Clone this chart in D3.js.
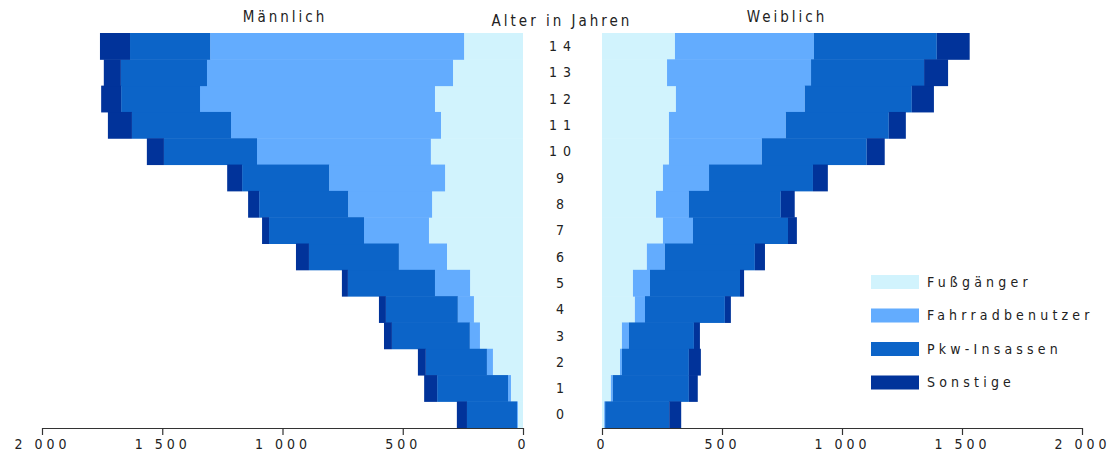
<!DOCTYPE html>
<html>
<head>
<meta charset="utf-8">
<script src="https://cdn.jsdelivr.net/npm/d3@7"></script>
<style>
  body { margin: 0; background: #fff; }
  text { font-family: "Liberation Sans Narrow", "DejaVu Sans Condensed", sans-serif; fill: #222; }
</style>
</head>
<body>
<div id="chart"></div>
<script>
const ages = [0, 1, 2, 3, 4, 5, 6, 7, 8, 9, 10, 11, 12, 13, 14];
const categories = ["Fußgänger", "Fahrradbenutzer", "Pkw-Insassen", "Sonstige"];
const colors = ["#d1f3fd", "#63acfe", "#0c64c8", "#01339a"];

// Männlich, Alter 0..14
const maleFuss    = [21, 50, 125, 179, 204, 220, 316, 391, 378, 324, 383, 341, 366, 291, 245];
const maleRad     = [4, 12, 25, 42, 67, 146, 200, 270, 349, 482, 723, 873, 977, 1023, 1056];
const malePkw     = [208, 295, 254, 324, 299, 362, 374, 395, 370, 362, 387, 412, 328, 358, 333];
const maleSonst   = [42, 54, 33, 33, 29, 25, 54, 29, 46, 62, 71, 100, 83, 71, 125];

// Weiblich, Alter 0..14
const femaleFuss  = [9, 37, 75, 83, 137, 129, 187, 254, 225, 254, 279, 279, 308, 271, 304];
const femaleRad   = [4, 8, 8, 29, 42, 71, 75, 125, 137, 192, 387, 487, 537, 600, 579];
const femalePkw   = [267, 317, 279, 271, 333, 375, 375, 396, 383, 433, 437, 429, 446, 471, 512];
const femaleSonst = [50, 37, 50, 25, 25, 17, 42, 37, 58, 62, 75, 71, 92, 100, 137];

const xTicks = [0, 500, 1000, 1500, 2000];
const tickLabels = ["0", "500", "1 000", "1 500", "2 000"];

const width = 1111, height = 452;

const svg = d3.select("#chart").append("svg")
    .attr("width", width)
    .attr("height", height);

const xLeft = d3.scaleLinear().domain([0, 2000]).range([523, 42]);
const xRight = d3.scaleLinear().domain([0, 2000]).range([602, 1082]);
const y = d3.scaleBand().domain(ages.slice().reverse()).range([33, 427.7]).padding(0);

function buildRows(f, r, p, s) {
    return ages.map((a, i) => ({ age: a, values: [f[i], r[i], p[i], s[i]] }));
}

const stack = d3.stack()
    .keys([0, 1, 2, 3])
    .value((d, k) => d.values[k]);

const male = stack(buildRows(maleFuss, maleRad, malePkw, maleSonst));
const female = stack(buildRows(femaleFuss, femaleRad, femalePkw, femaleSonst));

// left side (Männlich)
svg.append("g").selectAll("g")
    .data(male)
    .enter().append("g")
    .attr("fill", (d, i) => colors[i])
    .selectAll("rect")
    .data(d => d)
    .enter().append("rect")
    .attr("x", d => xLeft(d[1]))
    .attr("width", d => xLeft(d[0]) - xLeft(d[1]))
    .attr("y", d => y(d.data.age))
    .attr("height", y.bandwidth() + 0.5);

// right side (Weiblich)
svg.append("g").selectAll("g")
    .data(female)
    .enter().append("g")
    .attr("fill", (d, i) => colors[i])
    .selectAll("rect")
    .data(d => d)
    .enter().append("rect")
    .attr("x", d => xRight(d[0]))
    .attr("width", d => xRight(d[1]) - xRight(d[0]))
    .attr("y", d => y(d.data.age))
    .attr("height", y.bandwidth() + 0.5);

// axes
const fmt = v => tickLabels[xTicks.indexOf(v)];

const axL = svg.append("g")
    .attr("transform", "translate(0,428)")
    .call(d3.axisBottom(xLeft).tickValues(xTicks).tickFormat(fmt).tickSize(7).tickSizeOuter(0));
const axR = svg.append("g")
    .attr("transform", "translate(0,428)")
    .call(d3.axisBottom(xRight).tickValues(xTicks).tickFormat(fmt).tickSize(7).tickSizeOuter(0));

[axL, axR].forEach(ax => {
    ax.select(".domain").attr("stroke", "#333").attr("stroke-width", 1.2);
    ax.selectAll(".tick line").attr("stroke", "#333").attr("stroke-width", 1.2);
    ax.selectAll(".tick text")
        .attr("y", 11)
        .style("font-size", "14px")
        .style("letter-spacing", "4px")
        .attr("font-family", null)
        .attr("fill", "#222");
});

// age labels
svg.append("g").selectAll("text")
    .data(ages)
    .enter().append("text")
    .attr("x", 563)
    .attr("y", d => y(d) + y.bandwidth() / 2)
    .attr("dy", "0.35em")
    .attr("text-anchor", "middle")
    .style("font-size", "14px")
    .style("letter-spacing", "6px")
    .text(d => String(d));

// titles
svg.append("text").attr("x", 285).attr("y", 22).attr("text-anchor", "middle")
    .style("font-size", "15px").style("letter-spacing", "3px").text("Männlich");
svg.append("text").attr("x", 562).attr("y", 26).attr("text-anchor", "middle")
    .style("font-size", "15px").style("letter-spacing", "3px").text("Alter in Jahren");
svg.append("text").attr("x", 787).attr("y", 22).attr("text-anchor", "middle")
    .style("font-size", "15px").style("letter-spacing", "3px").text("Weiblich");

// legend
const legend = svg.append("g").attr("transform", "translate(871,275)");
const item = legend.selectAll("g")
    .data(categories)
    .enter().append("g")
    .attr("transform", (d, i) => "translate(0," + (i * 33.5) + ")");
item.append("rect")
    .attr("width", 48)
    .attr("height", 14)
    .attr("fill", (d, i) => colors[i]);
item.append("text")
    .attr("x", 56)
    .attr("y", 7)
    .attr("dy", "0.35em")
    .style("font-size", "14px")
    .style("letter-spacing", "4.2px")
    .text(d => d);
</script>
</body>
</html>
